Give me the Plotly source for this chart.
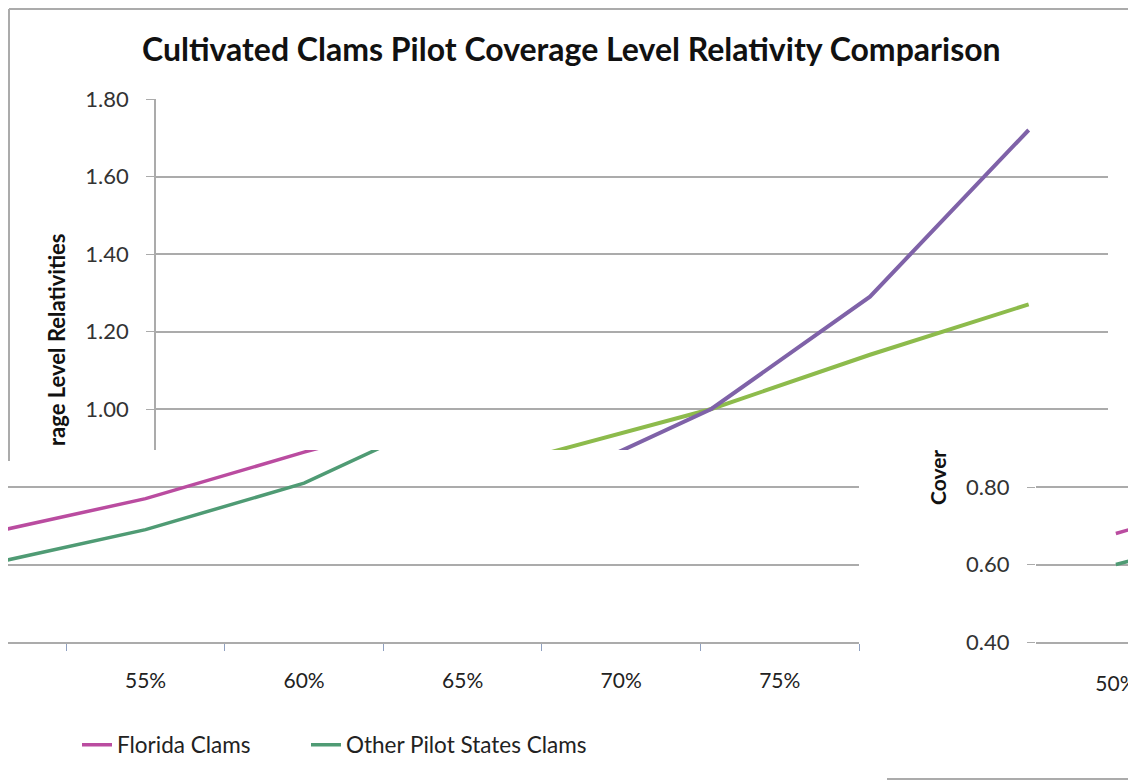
import plotly.graph_objects as go

# niveaux de couverture et relativités
niveaux = ["50%", "55%", "60%", "65%", "70%", "75%"]
floride = [0.68, 0.77, 0.89, 1.00, 1.14, 1.27]
autres_etats = [0.60, 0.69, 0.81, 1.00, 1.29, 1.72]
ticks_y = [0.40, 0.60, 0.80, 1.00, 1.20, 1.40, 1.60, 1.80]

# la page ajoute une marge de 8 px autour de la figure
DECAL = 8
W, H = 1136 - DECAL, 781 - DECAL
POLICE = "Lato"
GRIS = "#ABABAB"
TEXTE = "#333333"


def px_x(p):
    return (p - DECAL) / W


def px_y(p):
    return 1 - (p - DECAL) / H


fig = go.Figure()

# graphique du haut (couleurs violet / vert)
fig.add_trace(go.Scatter(x=niveaux, y=floride, mode="lines", line=dict(color="#8DBB4C", width=4),
                         showlegend=False, xaxis="x", yaxis="y"))
fig.add_trace(go.Scatter(x=niveaux, y=autres_etats, mode="lines", line=dict(color="#7F62A8", width=4),
                         showlegend=False, xaxis="x", yaxis="y"))

# morceau du bas, décalé vers la gauche (avec la légende)
fig.add_trace(go.Scatter(x=niveaux, y=floride, mode="lines", name="Florida Clams",
                         line=dict(color="#BA4CA0", width=3.5), xaxis="x2", yaxis="y2", legend="legend"))
fig.add_trace(go.Scatter(x=niveaux, y=autres_etats, mode="lines", name="Other Pilot States Clams",
                         line=dict(color="#4F9B74", width=3.5), xaxis="x2", yaxis="y2", legend="legend2"))

# morceau de droite, décalé vers la droite
fig.add_trace(go.Scatter(x=niveaux, y=floride, mode="lines", line=dict(color="#BA4CA0", width=3.5),
                         showlegend=False, xaxis="x3", yaxis="y3"))
fig.add_trace(go.Scatter(x=niveaux, y=autres_etats, mode="lines", line=dict(color="#4F9B74", width=3.5),
                         showlegend=False, xaxis="x3", yaxis="y3"))

pas = 0.8 / 310  # valeur par pixel
largeur_cat = 158.6
axe_y_commun = dict(tickvals=ticks_y, tickformat=".2f", showgrid=True, gridcolor=GRIS, gridwidth=1.5,
                    zeroline=False, tickfont=dict(family=POLICE, size=22, color=TEXTE),
                    ticks="outside", ticklen=8, tickcolor=GRIS, ticklabelstandoff=13)
legende = dict(orientation="h", xanchor="left", y=px_y(745), yanchor="middle",
               font=dict(family=POLICE, size=22.5, color="#222222"), bgcolor="rgba(0,0,0,0)")

fig.update_layout(
    width=W, height=H,
    margin=dict(l=0, r=0, t=0, b=0, autoexpand=False),
    paper_bgcolor="white", plot_bgcolor="white",
    font=dict(family=POLICE, color=TEXTE),
    xaxis=dict(domain=[px_x(156), px_x(1108)], range=[-0.5, 5.5], anchor="y",
               showticklabels=False, showgrid=False, showline=False, zeroline=False),
    yaxis=dict(domain=[px_y(450), px_y(99)], range=[1.80 - 351 * pas, 1.80], anchor="x",
               showline=True, linecolor=GRIS, linewidth=1.5, **axe_y_commun),
    xaxis2=dict(domain=[px_x(8), px_x(859)], range=[21 / largeur_cat, 5.5], anchor="y2",
                tickson="boundaries", ticks="outside", ticklen=7, tickcolor="#8FA0C0",
                showline=True, linecolor=GRIS, linewidth=2, showgrid=False, zeroline=False,
                tickfont=dict(family=POLICE, size=21, color="#222222"), ticklabelstandoff=19),
    yaxis2=dict(domain=[px_y(642), px_y(450)], range=[0.40, 0.40 + 192 * pas], anchor="x2",
                showticklabels=False, showgrid=True, gridcolor=GRIS, gridwidth=2,
                tickvals=ticks_y, zeroline=False, ticks=""),
    xaxis3=dict(domain=[px_x(1036), 1], range=[-0.5, 20 / largeur_cat], anchor="y3",
                showline=True, linecolor=GRIS, linewidth=1.5, showgrid=False, zeroline=False, ticks="",
                tickfont=dict(family=POLICE, size=21, color="#222222"), ticklabelstandoff=22),
    yaxis3=dict(domain=[px_y(642), px_y(450)], range=[0.40, 0.40 + 192 * pas], anchor="x3",
                showline=False, **axe_y_commun),
    legend=dict(x=px_x(77), **legende),
    legend2=dict(x=px_x(306), **legende),
    showlegend=True,
)

# titre et bouts de titres d'axe visibles
fig.add_annotation(text="<b>Cultivated Clams Pilot Coverage Level Relativity Comparison</b>",
                   xref="paper", yref="paper", x=px_x(571), y=px_y(48), showarrow=False,
                   xanchor="center", yanchor="middle", font=dict(family=POLICE, size=32, color="#111111"))
fig.add_annotation(text="<b>rage Level Relativities</b>", textangle=-90,
                   xref="paper", yref="paper", x=px_x(57), y=px_y(340), showarrow=False,
                   xanchor="center", yanchor="middle", font=dict(family=POLICE, size=22, color="#111111"))
fig.add_annotation(text="<b>Cover</b>", textangle=-90,
                   xref="paper", yref="paper", x=px_x(937), y=px_y(478), showarrow=False,
                   xanchor="center", yanchor="middle", font=dict(family=POLICE, size=21, color="#111111"))

# cadre du graphique du haut
cadre = dict(type="line", xref="paper", yref="paper", line=dict(color=GRIS, width=2))
fig.add_shape(x0=px_x(9), x1=px_x(1135), y0=px_y(9), y1=px_y(9), **cadre)
fig.add_shape(x0=px_x(9), x1=px_x(9), y0=px_y(9), y1=px_y(461), **cadre)
fig.add_shape(x0=px_x(1135), x1=px_x(1135), y0=px_y(9), y1=px_y(458), **cadre)
fig.add_shape(x0=px_x(887), x1=1, y0=px_y(779), y1=px_y(779), **cadre)

fig.write_html("out.html")
